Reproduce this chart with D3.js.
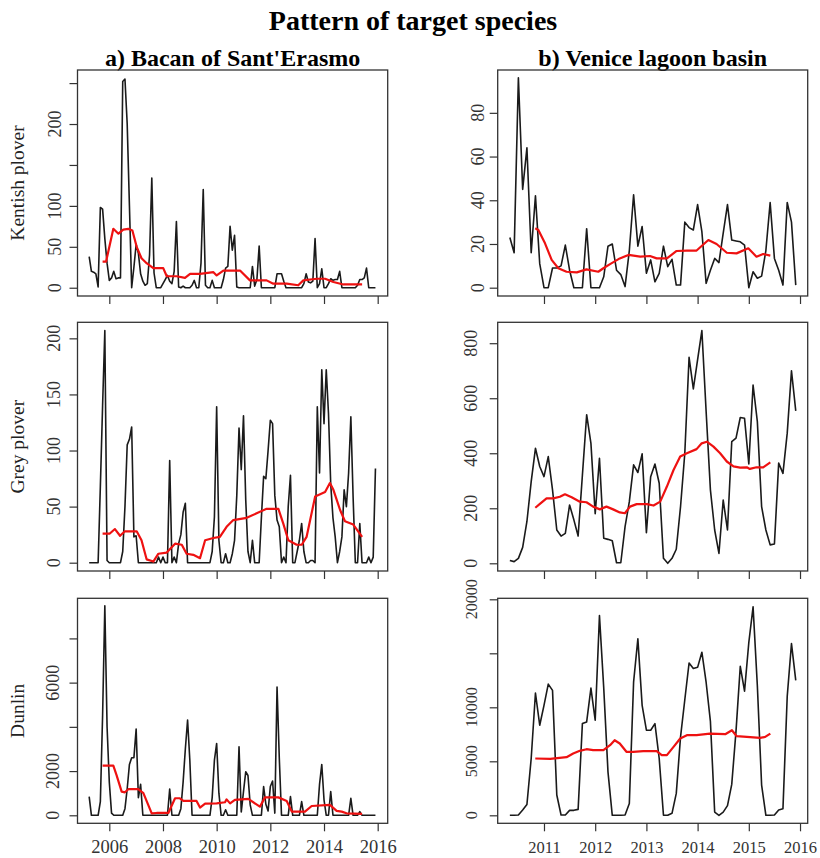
<!DOCTYPE html>
<html>
<head>
<meta charset="utf-8">
<script src="https://cdn.jsdelivr.net/npm/d3@7"></script>
<style>
  body { margin: 0; background: #fff; }
  svg { display: block; font-family: "Liberation Serif", "Times New Roman", serif; }
</style>
</head>
<body>
<script>
// monthly counts, Bacan of Sant'Erasmo (Apr 2005 - Dec 2015)
var startA = 2005 + 3 / 12;
var kentishA = [
  38, 20, 19, 17, 1, 98, 96, 60, 30, 9, 12, 20,
  11, 12, 12, 252, 255, 200, 100, 0, 25, 53, 42, 17,
  8, 3, 5, 40, 134, 18, 0, 0, 0, 5, 10, 15,
  8, 5, 20, 81, 1, 0, 2, 0, 0, 0, 3, 9,
  0, 0, 30, 120, 3, 0, 0, 9, 0, 0, 0, 0,
  10, 24, 26, 75, 46, 64, 1, 0, 0, 0, 0, 0,
  0, 26, 2, 10, 51, 0, 0, 0, 0, 0, 0, 0,
  17, 17, 17, 8, 0, 0, 0, 0, 0, 0, 0, 0,
  5, 17, 7, 6, 8, 60, 0, 5, 23, 0, 0, 5,
  11, 9, 10, 10, 20, 0, 0, 0, 0, 0, 0, 0,
  3, 10, 10, 12, 24, 0, 0, 0, 0
];
var greyA = [
  0, 0, 0, 0, 0, 68, 140, 207, 2, 0, 0, 0,
  0, 0, 0, 10, 50, 105, 110, 121, 23, 24, 0, 0,
  0, 0, 0, 0, 0, 0, 0, 5, 0, 5, 0, 0,
  91, 0, 5, 0, 17, 25, 45, 53, 0, 0, 0, 0,
  0, 0, 0, 0, 0, 0, 0, 10, 41, 139, 20, 0,
  0, 8, 0, 0, 8, 20, 60, 120, 83, 131, 56, 10,
  0, 20, 0, 0, 0, 40, 77, 75, 100, 127, 124, 60,
  38, 32, 0, 5, 0, 50, 78, 0, 0, 10, 20, 35,
  10, 0, 0, 2, 2, 0, 139, 80, 172, 124, 172, 133,
  70, 40, 23, 0, 10, 23, 65, 50, 80, 130, 59, 0,
  0, 35, 0, 0, 0, 5, 0, 5, 84
];
var dunlinA = [
  845, 0, 0, 0, 0, 620, 4500, 9480, 4000, 1500, 100, 0,
  0, 0, 0, 0, 300, 1200, 2300, 2600, 2600, 3900, 800, 1400,
  0, 0, 0, 0, 0, 0, 0, 0, 0, 0, 0, 0,
  1190, 0, 0, 0, 0, 300, 1500, 3000, 4310, 2500, 0, 0,
  0, 0, 0, 0, 0, 0, 0, 800, 2500, 3250, 1000, 0,
  0, 250, 0, 0, 0, 0, 0, 3100, 150, 1070, 1970, 1800,
  470, 0, 0, 0, 0, 0, 1300, 500, 200, 1300, 1550, 100,
  5800, 2600, 0, 0, 0, 0, 845, 0, 0, 0, 0, 620,
  0, 0, 0, 0, 0, 0, 0, 1400, 2300, 700, 0, 0,
  1070, 0, 0, 0, 0, 0, 0, 0, 0, 770, 0, 0,
  0, 165, 0, 0, 0, 0, 0, 0, 0
];

// monthly counts, Venice lagoon basin (May 2010 - Dec 2015)
var startB = 2010 + 4 / 12;
var kentishB = [
  23, 16, 96, 45, 64, 16, 42, 11,
  0, 0, 9, 9, 10, 19.5, 8, 0, 0, 0, 27, 0, 0, 0, 5, 19,
  20, 8, 6, 0.5, 17, 42.5, 19, 28, 6.6, 12.7, 2.7, 6.6,
  19, 9.6, 13, 1.2, 1.2, 30, 27.5, 26.4, 38, 25.6, 2, 8,
  13.4, 11.5, 25, 38, 21.8, 21.4, 21, 19.5, 0, 7.3, 4.3, 5.3,
  17, 39, 13.4, 8, 1.2, 39, 30, 1.2
];
var greyB = [
  10, 6, 18, 58, 152, 297, 418, 352,
  315, 388, 267, 121, 99, 109, 212, 158, 99, 320, 540, 436,
  180, 382, 91, 87, 82, 2, 2, 133, 224, 358, 330, 398,
  111, 315, 361, 291, 18, 0, 18, 51, 206, 400, 749, 634,
  740, 846, 551, 267, 121, 36, 230, 121, 442, 455, 530, 527,
  361, 648, 515, 206, 121, 67, 70, 364, 327, 473, 700, 554
];
var dunlinB = [
  0, 0, 30, 490, 1000, 5260, 11320, 8340,
  10180, 12150, 11570, 1880, 30, 30, 460, 460, 550, 8490, 8650, 11780,
  8800, 18490, 11800, 4000, 0, 0, 0, 30, 1100, 12340, 16340, 10180,
  7880, 7880, 8490, 5260, 0, 0, 185, 2030, 7260, 10700, 14100, 13600,
  13700, 15100, 12300, 8700, 300, 0, 300, 900, 2860, 7800, 13800, 11500,
  16000, 19300, 12000, 2800, 0, 0, 30, 500, 600, 11000, 15900, 12500
];

// trend (red line), read as [year, value]
var trendKentishA = [
  [2005.75, 32], [2005.88, 32], [2006.15, 72], [2006.34, 66], [2006.52, 71], [2006.71, 72],
  [2006.86, 70], [2007.02, 50], [2007.20, 36], [2007.39, 30], [2007.64, 24], [2008.01, 24],
  [2008.14, 14], [2008.51, 14], [2008.82, 12], [2009.01, 17], [2009.38, 17], [2009.88, 19],
  [2010.00, 15], [2010.25, 21], [2010.87, 21], [2011.24, 9], [2011.86, 9], [2012.11, 5],
  [2012.61, 5], [2013.04, 3], [2013.23, 9], [2013.73, 11], [2014.04, 11], [2014.35, 7],
  [2014.72, 4], [2015.42, 4]
];
var trendGreyA = [
  [2005.75, 26], [2006.02, 26], [2006.21, 30], [2006.40, 24], [2006.58, 28], [2007.02, 28],
  [2007.20, 20], [2007.39, 3], [2007.64, 1], [2007.83, 8], [2008.14, 9], [2008.45, 17],
  [2008.70, 16], [2008.88, 8], [2009.13, 7], [2009.38, 4], [2009.57, 20], [2009.88, 22],
  [2010.12, 23], [2010.37, 32], [2010.62, 38], [2011.12, 40], [2011.49, 44], [2011.86, 48],
  [2012.30, 48], [2012.48, 35], [2012.67, 20], [2012.98, 16], [2013.17, 16], [2013.35, 23],
  [2013.67, 59], [2014.04, 63], [2014.22, 71], [2014.35, 65], [2014.60, 47], [2014.78, 37],
  [2015.09, 34], [2015.42, 23]
];
var trendDunlinA = [
  [2005.75, 2250], [2006.15, 2250], [2006.27, 1820], [2006.46, 1070], [2006.58, 1040],
  [2006.71, 1180], [2007.08, 1180], [2007.27, 1000], [2007.45, 470], [2007.58, 90],
  [2007.76, 105], [2008.20, 105], [2008.45, 770], [2008.63, 770], [2008.76, 650],
  [2009.25, 650], [2009.38, 350], [2009.57, 530], [2010.00, 540], [2010.31, 590],
  [2010.37, 720], [2010.50, 540], [2010.68, 700], [2011.18, 740], [2011.61, 390],
  [2011.80, 810], [2012.30, 810], [2012.61, 650], [2012.80, 165], [2013.29, 165],
  [2013.54, 420], [2014.22, 470], [2014.47, 200], [2014.66, 165], [2014.84, 90],
  [2015.42, 60]
];
var trendKentishB = [
  [2010.83, 27.2], [2010.89, 26.4], [2011.02, 20.3], [2011.15, 12.7], [2011.28, 8.9],
  [2011.44, 7.3], [2011.64, 7], [2011.83, 8.4], [2012.06, 7.3], [2012.16, 8.9],
  [2012.29, 10.8], [2012.48, 13.4], [2012.65, 15], [2012.88, 14.2], [2013.07, 14.5],
  [2013.20, 13.4], [2013.40, 13.4], [2013.59, 16.8], [2013.79, 17], [2013.98, 17],
  [2014.21, 21.8], [2014.37, 20], [2014.57, 16], [2014.76, 15.7], [2014.99, 18],
  [2015.15, 14.2], [2015.28, 15.4], [2015.42, 14.7]
];
var trendGreyB = [
  [2010.83, 202], [2010.92, 216], [2011.05, 236], [2011.18, 236], [2011.31, 242],
  [2011.41, 251], [2011.54, 240], [2011.70, 224], [2011.83, 222], [2011.96, 206],
  [2012.09, 196], [2012.22, 206], [2012.35, 196], [2012.48, 185], [2012.58, 182],
  [2012.68, 206], [2012.81, 215], [2013.01, 215], [2013.14, 210], [2013.27, 224],
  [2013.40, 279], [2013.53, 339], [2013.66, 388], [2013.79, 400], [2013.98, 415],
  [2014.08, 436], [2014.18, 442], [2014.31, 424], [2014.44, 400], [2014.57, 370],
  [2014.70, 352], [2014.83, 348], [2014.96, 349], [2015.02, 343], [2015.15, 349],
  [2015.28, 349], [2015.42, 367]
];
var trendDunlinB = [
  [2010.83, 5260], [2011.12, 5230], [2011.44, 5380], [2011.57, 5720], [2011.70, 5970],
  [2011.83, 6120], [2011.96, 6030], [2012.16, 6030], [2012.29, 6490], [2012.38, 6950],
  [2012.48, 6650], [2012.61, 5880], [2012.74, 5880], [2012.94, 5940], [2013.20, 5940],
  [2013.30, 5570], [2013.40, 5570], [2013.53, 6340], [2013.66, 7110], [2013.79, 7420],
  [2013.98, 7420], [2014.24, 7570], [2014.54, 7510], [2014.67, 7880], [2014.76, 7340],
  [2014.96, 7260], [2015.22, 7170], [2015.32, 7260], [2015.42, 7570]
];

var yearsA = [2006, 2008, 2010, 2012, 2014, 2016];
var yearsB = [2011, 2012, 2013, 2014, 2015, 2016];
var species = ["Kentish plover", "Grey plover", "Dunlin"];
var sites = ["a) Bacan of Sant'Erasmo", "b) Venice lagoon basin"];

var width = 820, height = 858;

var svg = d3.select("body").append("svg")
    .attr("width", width)
    .attr("height", height);

var cols = [
    {left: 77.5, right: 387.7, xDomain: [2004.815, 2016.373], years: yearsA, start: startA, xfs: 18.5},
    {left: 497.7, right: 807.7, xDomain: [2010.096, 2016.15], years: yearsB, start: startB, xfs: 16.5}
];
var rows = [
    {top: 70, bottom: 296},
    {top: 322.3, bottom: 571},
    {top: 598.3, bottom: 823.3}
];

// lab = distance of the rotated tick labels' baseline from the box
var panels = [
    {row: 0, col: 0, counts: kentishA, trend: trendKentishA, yDomain: [-10.1, 266],
     ticks: [0, 50, 100, 150, 200, 250], labels: [0, 50, 100, 200], fs: 18, lab: 17},
    {row: 0, col: 1, counts: kentishB, trend: trendKentishB, yDomain: [-3.8, 99.6],
     ticks: [0, 20, 40, 60, 80], labels: [0, 20, 40, 60, 80], fs: 18, lab: 14},
    {row: 1, col: 0, counts: greyA, trend: trendGreyA, yDomain: [-7.4, 214.3],
     ticks: [0, 50, 100, 150, 200], labels: [0, 50, 100, 150, 200], fs: 18, lab: 18},
    {row: 1, col: 1, counts: greyB, trend: trendGreyB, yDomain: [-28, 876],
     ticks: [0, 200, 400, 600, 800], labels: [0, 200, 400, 600, 800], fs: 18, lab: 21},
    {row: 2, col: 0, counts: dunlinA, trend: trendDunlinA, yDomain: [-362, 9814],
     ticks: [0, 2000, 4000, 6000, 8000], labels: [0, 2000, 6000], fs: 18, lab: 19},
    {row: 2, col: 1, counts: dunlinB, trend: trendDunlinB, yDomain: [-740, 20093],
     ticks: [0, 5000, 10000, 15000, 20000], labels: [0, 5000, 10000, 20000], fs: 16, lab: 20.5}
];

// titles
svg.append("text")
    .attr("x", 413).attr("y", 30)
    .attr("text-anchor", "middle")
    .attr("font-size", 28).attr("font-weight", "bold")
    .text("Pattern of target species");

cols.forEach(function(c, i) {
    svg.append("text")
        .attr("x", (c.left + c.right) / 2).attr("y", 66)
        .attr("text-anchor", "middle")
        .attr("font-size", 24).attr("font-weight", "bold")
        .text(sites[i]);
});

rows.forEach(function(r, i) {
    svg.append("text")
        .attr("transform", "translate(24," + (r.top + r.bottom) / 2 + ") rotate(-90)")
        .attr("text-anchor", "middle")
        .attr("font-size", 19.5)
        .attr("fill", "#222")
        .text(species[i]);
});

panels.forEach(function(p) {
    var c = cols[p.col], r = rows[p.row];

    var x = d3.scaleLinear().domain(c.xDomain).range([c.left, c.right]);
    var y = d3.scaleLinear().domain(p.yDomain).range([r.bottom, r.top]);

    var g = svg.append("g");

    // y ticks, labels rotated like R
    g.append("g")
        .attr("transform", "translate(" + c.left + ",0)")
        .call(d3.axisLeft(y).tickValues(p.ticks).tickSize(8).tickFormat(""))
        .call(function(a) { a.select(".domain").remove(); })
        .selectAll("line").attr("stroke", "#333").attr("stroke-width", 1.2);

    g.selectAll(".ylab")
        .data(p.labels)
        .enter().append("text")
        .attr("transform", function(d) { return "translate(" + (c.left - p.lab) + "," + y(d) + ") rotate(-90)"; })
        .attr("text-anchor", "middle")
        .attr("font-size", p.fs)
        .attr("fill", "#333")
        .text(function(d) { return d; });

    // x ticks, labels only on the bottom row
    var xa = g.append("g")
        .attr("transform", "translate(0," + r.bottom + ")")
        .call(d3.axisBottom(x).tickValues(c.years).tickSize(8)
            .tickFormat(p.row == 2 ? d3.format("d") : ""));
    xa.select(".domain").remove();
    xa.selectAll("line").attr("stroke", "#333").attr("stroke-width", 1.2);
    xa.attr("font-family", null).attr("font-size", c.xfs);
    xa.selectAll("text").attr("y", 30).attr("dy", 0).attr("fill", "#333");

    var line = d3.line()
        .x(function(d) { return x(d[0]); })
        .y(function(d) { return y(d[1]); });

    var pts = p.counts.map(function(v, i) { return [c.start + i / 12, v]; });

    g.append("path")
        .datum(pts)
        .attr("fill", "none")
        .attr("stroke", "#1a1a1a")
        .attr("stroke-width", 1.6)
        .attr("stroke-linejoin", "round")
        .attr("d", line);

    g.append("path")
        .datum(p.trend)
        .attr("fill", "none")
        .attr("stroke", "#ee1111")
        .attr("stroke-width", 2.2)
        .attr("stroke-linejoin", "round")
        .attr("d", line);

    g.append("rect")
        .attr("x", c.left).attr("y", r.top)
        .attr("width", c.right - c.left).attr("height", r.bottom - r.top)
        .attr("fill", "none")
        .attr("stroke", "#333")
        .attr("stroke-width", 1.3);
});
</script>
</body>
</html>
